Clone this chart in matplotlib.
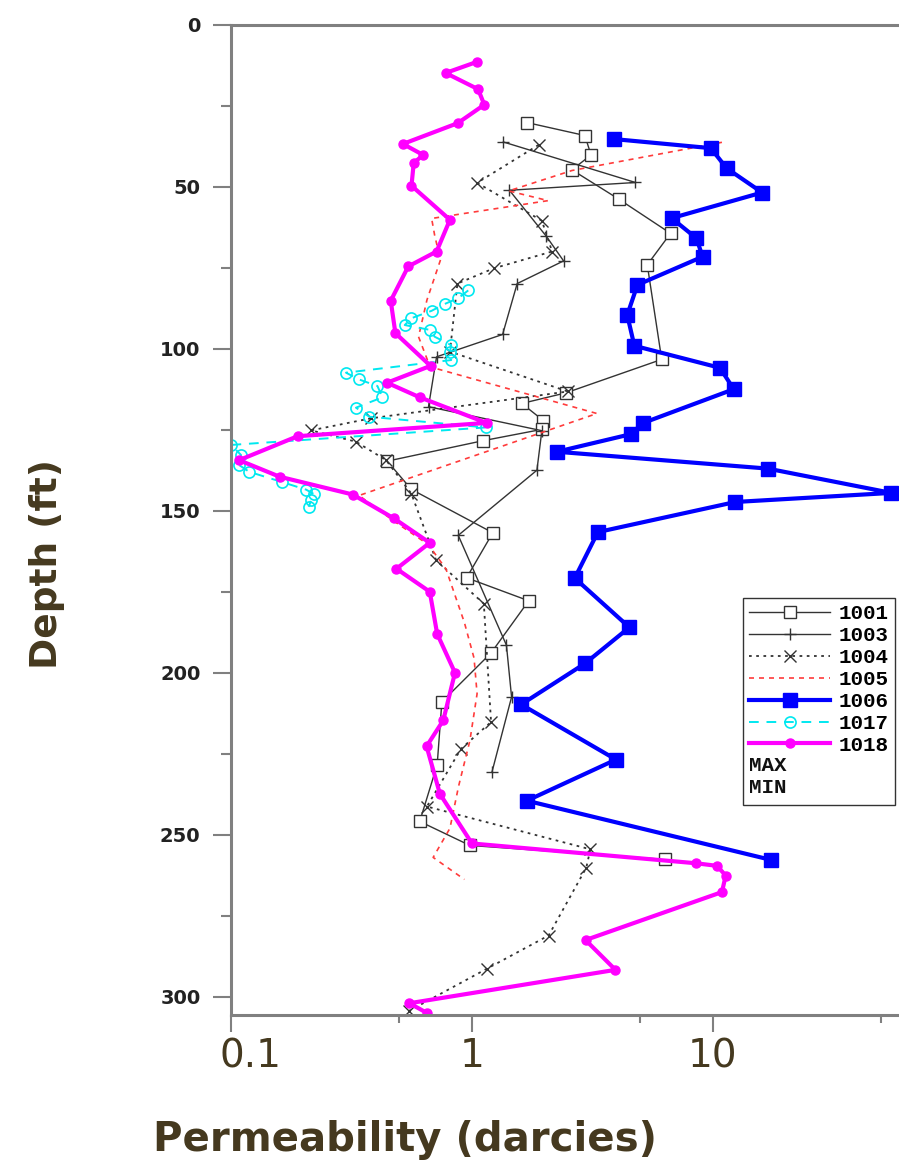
import matplotlib
matplotlib.use("Agg")
import matplotlib.pyplot as plt
from matplotlib.text import Text
from matplotlib.legend_handler import HandlerBase
from matplotlib.ticker import FixedLocator, NullFormatter, FixedFormatter
from matplotlib.transforms import ScaledTranslation

# well data: permeability (darcies) vs depth (ft)
d1001 = [30.2, 34.2, 40.2, 44.8, 53.8, 64.4, 74.1, 103.3, 113.6, 116.9, 122.2, 124.9, 128.4,
         134.7, 143.4, 156.8, 170.7, 177.8, 193.9, 209.0, 228.4, 245.9, 253.3, 257.6]
k1001 = [1.69, 2.94, 3.12, 2.6, 4.06, 6.67, 5.34, 6.13, 2.46, 1.61, 1.98, 1.95, 1.11,
         0.445, 0.56, 1.22, 0.95, 1.72, 1.2, 0.75, 0.717, 0.607, 0.98, 6.3]

d1003 = [36.2, 48.7, 51.1, 65.2, 72.9, 79.9, 95.6, 102.5, 117.9, 125.3, 137.5, 157.6,
         191.5, 207.5, 230.7]
k1003 = [1.35, 4.77, 1.43, 2.03, 2.4, 1.54, 1.34, 0.713, 0.66, 1.95, 1.86, 0.877,
         1.39, 1.46, 1.21]

d1004 = [37.1, 48.8, 60.5, 70.0, 75.2, 79.9, 100.9, 113.2, 121.5, 125.2, 128.7, 134.4,
         144.7, 165.3, 178.7, 215.2, 223.5, 241.3, 254.5, 260.2, 281.1, 291.4, 304.3]
k1004 = [1.89, 1.05, 1.95, 2.15, 1.23, 0.87, 0.81, 2.5, 0.38, 0.215, 0.33, 0.44,
         0.56, 0.71, 1.12, 1.2, 0.9, 0.65, 3.1, 2.98, 2.08, 1.15, 0.55]

d1005 = [36.3, 45.0, 51.3, 54.3, 59.8, 65.0, 72.6, 85.0, 96.3, 105.6, 120.0, 145.3,
         153.0, 160.5, 168.0, 184.5, 195.5, 206.5, 221.0, 235.0, 248.0, 257.0, 263.8]
k1005 = [10.9, 2.6, 1.42, 2.07, 0.68, 0.7, 0.74, 0.65, 0.6, 0.67, 3.3, 0.34,
         0.47, 0.66, 0.78, 0.93, 1.02, 1.05, 0.98, 0.88, 0.81, 0.69, 0.93]

d1006 = [35.3, 38.1, 44.3, 51.8, 59.7, 65.9, 71.6, 80.3, 89.6, 99.1, 105.9, 112.5, 122.9,
         126.4, 131.8, 137.0, 144.5, 147.3, 156.6, 170.8, 186.0, 197.1, 209.8, 226.8,
         239.5, 257.8]
k1006 = [3.88, 9.8, 11.4, 16.0, 6.74, 8.54, 9.06, 4.86, 4.41, 4.72, 10.7, 12.2, 5.14,
         4.55, 2.25, 16.9, 55.0, 12.4, 3.33, 2.67, 4.5, 2.95, 1.6, 3.96, 1.69, 17.5]

d1017 = [82.0, 84.4, 86.2, 88.3, 90.6, 92.7, 94.2, 96.3, 98.9, 101.0, 103.5, 107.4, 109.5,
         111.5, 115.0, 118.2, 121.0, 124.3, 129.7, 132.8, 135.9, 138.0, 141.1, 143.5,
         144.8, 146.8, 148.8]
k1017 = [0.965, 0.877, 0.77, 0.68, 0.56, 0.526, 0.67, 0.70, 0.82, 0.81, 0.82, 0.30, 0.34,
         0.405, 0.425, 0.33, 0.375, 1.14, 0.1, 0.11, 0.108, 0.119, 0.162, 0.205,
         0.22, 0.215, 0.21]

d1018 = [11.5, 14.9, 19.9, 24.7, 30.4, 36.8, 40.2, 42.7, 49.7, 60.2, 70.0, 74.6, 85.2,
         95.2, 105.3, 110.5, 115.0, 122.9, 127.0, 134.4, 139.5, 145.0, 152.4, 159.9,
         167.9, 175.0, 188.0, 200.0, 214.7, 222.7, 237.4, 252.7, 258.8, 259.6, 262.6,
         267.7, 282.5, 291.7, 302.0, 305.0]
k1018 = [1.046, 0.777, 1.06, 1.125, 0.872, 0.517, 0.627, 0.573, 0.561, 0.81, 0.713, 0.544,
         0.46, 0.481, 0.673, 0.444, 0.607, 1.15, 0.189, 0.108, 0.159, 0.32, 0.475, 0.668,
         0.486, 0.668, 0.717, 0.85, 0.76, 0.648, 0.736, 1.0, 8.5, 10.4, 11.3,
         10.9, 2.96, 3.94, 0.55, 0.65]

x_major = [0.1, 1, 10]
x_minor = [0.5, 5, 50]
x_labels = ["0.1", "1", "10"]
y_major = [0, 50, 100, 150, 200, 250, 300]
y_minor = [25, 75, 125, 175, 225, 275]

brown = "#45391f"
spine_gray = "#808080"

fig = plt.figure(figsize=(8.99, 11.76), dpi=100)
ax = fig.add_axes([0.257, 0.137, 0.743, 0.842])

ax.plot(k1001, d1001, color="#333333", lw=1.0, marker="s", ms=8, mfc="white", mec="#333333",
        mew=1.0, label="1001")
ax.plot(k1003, d1003, color="#333333", lw=1.0, marker="+", ms=9, mew=1.0, label="1003")
ax.plot(k1004, d1004, color="#333333", lw=1.3, ls=(0, (1.5, 2.5)), marker="x", ms=8,
        mew=1.0, label="1004")
ax.plot(k1005, d1005, color="#ff3b3b", lw=1.2, ls=(0, (3, 3)), label="1005")
ax.plot(k1006, d1006, color="#0000ff", lw=3, marker="s", ms=9.5, label="1006")
ax.plot(k1017, d1017, color="#00e8f0", lw=1.4, ls=(0, (5, 4)), marker="o", ms=8,
        mfc="none", mec="#00e8f0", mew=1.2, label="1017")
ax.plot(k1018, d1018, color="#ff00ff", lw=3, marker="o", ms=6.5, label="1018")

ax.set_xscale("log")
ax.set_xlim(0.1, 59.2)
ax.set_ylim(305.6, 0)

ax.xaxis.set_major_locator(FixedLocator(x_major))
ax.xaxis.set_major_formatter(FixedFormatter(x_labels))
ax.xaxis.set_minor_locator(FixedLocator(x_minor))
ax.xaxis.set_minor_formatter(NullFormatter())
ax.yaxis.set_major_locator(FixedLocator(y_major))
ax.yaxis.set_minor_locator(FixedLocator(y_minor))

for s in ["top", "left", "bottom"]:
    ax.spines[s].set_color(spine_gray)
    ax.spines[s].set_linewidth(2.2)
ax.spines["right"].set_visible(False)

ax.tick_params(axis="x", which="major", direction="out", length=12, width=1.5,
               color=spine_gray, labelsize=28, labelcolor=brown, pad=4)
ax.tick_params(axis="x", which="minor", direction="out", length=6, width=1.5, color=spine_gray)
ax.tick_params(axis="y", which="major", direction="out", length=13, width=1.5,
               color=spine_gray, labelsize=14, labelcolor="#222222", pad=9)
ax.tick_params(axis="y", which="minor", direction="out", length=7, width=1.5, color=spine_gray)
for t in ax.get_yticklabels():
    t.set_fontweight("bold")

# the "0.1" label sits a little right of its tick in the original
first = ax.get_xticklabels()[0]
first.set_transform(first.get_transform() + ScaledTranslation(19 / 100, 0, fig.dpi_scale_trans))


class TextTag:
    def __init__(self, text):
        self.text = text


class TextTagHandler(HandlerBase):
    def create_artists(self, legend, orig_handle, xdescent, ydescent, width, height,
                       fontsize, trans):
        t = Text(-xdescent, -ydescent + height / 2.0, orig_handle.text, ha="left",
                 va="center", fontsize=fontsize, fontfamily="Liberation Mono",
                 fontweight="bold", color="#111111")
        t.set_transform(trans)
        return [t]


handles, labels = ax.get_legend_handles_labels()
handles += [TextTag("MAX"), TextTag("MIN")]
labels += ["", ""]
leg = ax.legend(handles, labels, loc="upper right", bbox_to_anchor=(0.994, 0.421),
                borderaxespad=0, fancybox=False, framealpha=1, edgecolor="#333333",
                handlelength=3.9, handletextpad=0.4, labelspacing=0.14, borderpad=0.3,
                prop={"family": "Liberation Mono", "weight": "bold", "size": 15},
                handler_map={TextTag: TextTagHandler()})
leg.get_frame().set_linewidth(1.0)

fig.text(47 / 899, 1 - 564 / 1176, "Depth (ft)", rotation=90, ha="center", va="center",
         fontsize=27, fontweight="bold", color=brown)
fig.text(405 / 899, 1 - 1140 / 1176, "Permeability (darcies)", ha="center", va="center",
         fontsize=29, fontweight="bold", color=brown)

fig.savefig("out.png", dpi=100)
